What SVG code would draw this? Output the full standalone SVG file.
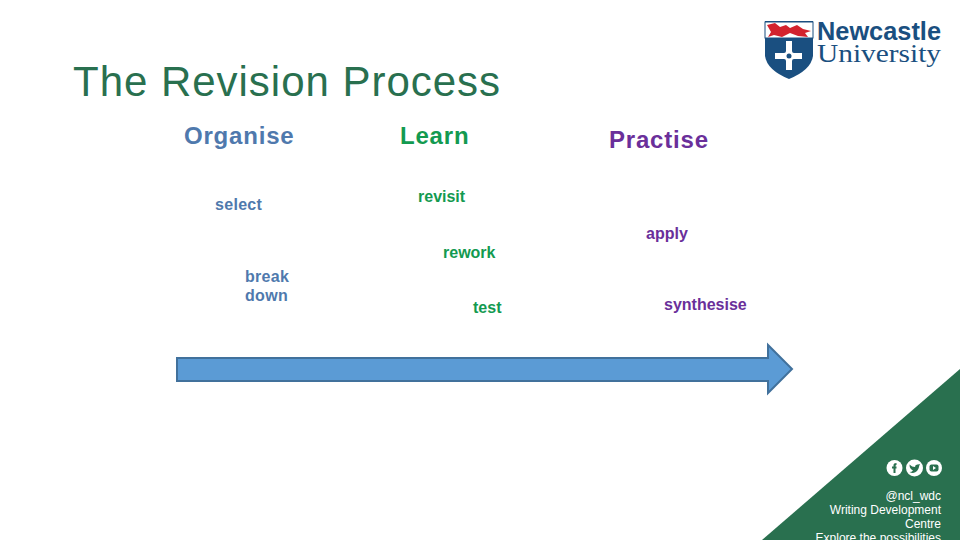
<svg xmlns="http://www.w3.org/2000/svg" width="960" height="540" viewBox="0 0 960 540">
<style>
text{font-family:"Liberation Sans",Arial,sans-serif}
.b{font-weight:bold;font-size:16px}
.h{font-weight:bold;font-size:24px;letter-spacing:.8px}
.o{fill:#4f79ad}.l{fill:#139a50}.p{fill:#6a2f9a}
.s{font-size:12px;fill:#fff;text-anchor:end}
</style>
<rect width="960" height="540" fill="#fff"/>
<text id="title" x="73" y="96" font-size="42" fill="#29704f" textLength="427" lengthAdjust="spacing">The Revision Process</text>
<g id="logo">
<path d="M765 21H813V56Q811 70 789 79Q767 70 765 56Z" fill="#1a4f80"/>
<rect x="765" y="22" width="48" height="16" fill="#fff" stroke="#1a4f80" stroke-width="1"/>
<path d="M767 25L775 23L780 27L786 25L790 28L797 25L803 29L811 31L805 33L808 37L798 36L790 33L782 37L774 35L768 37L771 32Z" fill="#d3222e"/>
<path d="M786 41H792V51Q792 53 794 53H802V59H794Q792 59 792 61V70H786V61Q786 59 784 59H775V53H784Q786 53 786 51Z" fill="#fff"/>
<circle cx="789" cy="56" r="2.5" fill="#1a4f80"/>
<text x="817" y="40" font-size="25" font-weight="bold" fill="#1a4f80" textLength="124" lengthAdjust="spacingAndGlyphs">Newcastle</text>
<text x="817" y="62" font-size="26" font-family="Liberation Serif" fill="#1a4f80" style="font-family:'Liberation Serif',serif" textLength="124" lengthAdjust="spacingAndGlyphs">University</text>
</g>
<g id="organise">
<text class="h o" x="184" y="144">Organise</text>
<text class="b o" x="215" y="210" letter-spacing=".3">select</text>
<text class="b o" x="245" y="282" letter-spacing=".3">break</text>
<text class="b o" x="245" y="301" letter-spacing=".3">down</text>
</g>
<g id="learn">
<text class="h l" x="400" y="144">Learn</text>
<text class="b l" x="418" y="202">revisit</text>
<text class="b l" x="443" y="258">rework</text>
<text class="b l" x="473" y="313">test</text>
</g>
<g id="practise">
<text class="h p" x="609" y="148">Practise</text>
<text class="b p" x="646" y="239">apply</text>
<text class="b p" x="664" y="310">synthesise</text>
</g>
<g id="connectors">
<path d="M177 358H768V345L792 369L768 393V381H177Z" fill="#5b9bd5" stroke="#41719c" stroke-width="2"/>
</g>
<g id="footer">
<path d="M960 369V540H762Z" fill="#29704f"/>
<circle cx="894.5" cy="468" r="8" fill="#fff"/>
<circle cx="914.5" cy="468" r="8.5" fill="#fff"/>
<circle cx="934" cy="468" r="8" fill="#fff"/>
<path d="M893.500 473V468.500H892V466.500H893.500V465Q893.500 463 896.500 463V465Q895.500 465 895.500 466V466.500H896.500V468.500H895.500V473Z" fill="#29704f"/>
<path d="M909.500 464.500Q912 467 915 467Q915 464 918 464.500L920 464Q919 466 919 467Q918 472 913 473Q911 473 909.500 472Q912 472 913 470.500Q909.500 469 909.500 464.500Z" fill="#29704f"/>
<rect x="929.500" y="464.500" width="9" height="7" rx="2" fill="#29704f"/>
<path d="M933 466V470L936 468Z" fill="#fff"/>
<text class="s" x="941" y="500">@ncl_wdc</text>
<text class="s" x="941" y="514">Writing Development</text>
<text class="s" x="941" y="528">Centre</text>
<text class="s" x="941" y="542">Explore the possibilities</text>
</g>
</svg>
